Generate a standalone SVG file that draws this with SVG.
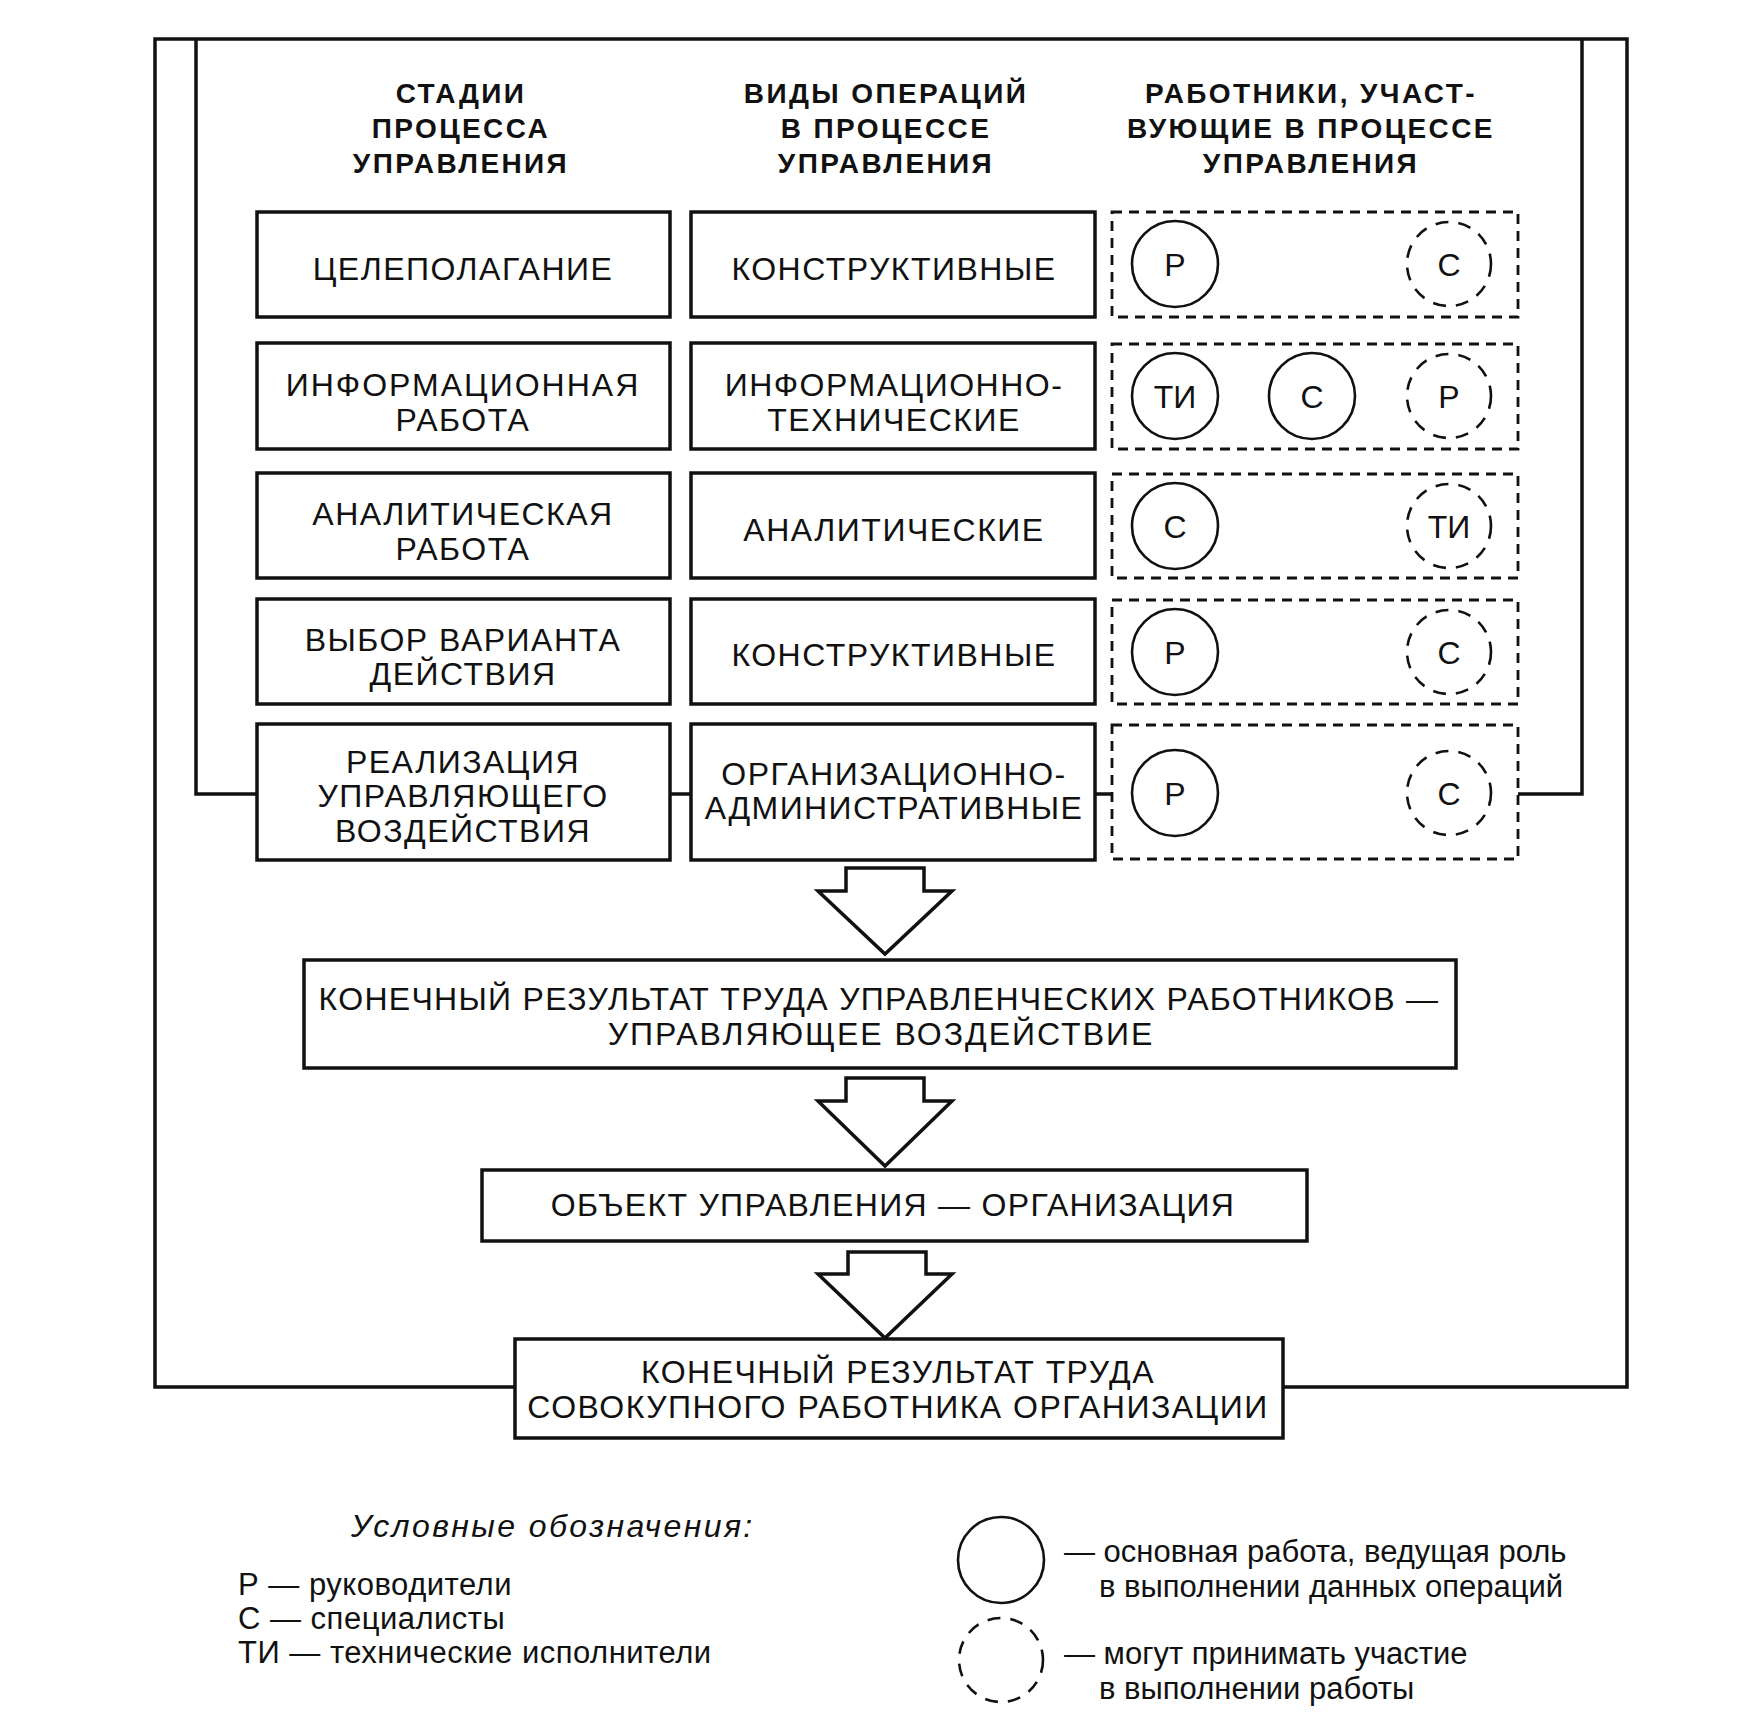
<svg xmlns="http://www.w3.org/2000/svg" width="1742" height="1731" viewBox="0 0 1742 1731">
<style>
  .bg{fill:#fff}
  .box{fill:#fff;stroke:#111;stroke-width:3.5}
  .dbox{fill:none;stroke:#111;stroke-width:2.8;stroke-dasharray:10 7}
  .ln{fill:none;stroke:#111;stroke-width:3.5}
  .arr{fill:#fff;stroke:#111;stroke-width:3.5;stroke-linejoin:miter}
  .c{fill:none;stroke:#111;stroke-width:2.6}
  .dc{fill:none;stroke:#111;stroke-width:2.6;stroke-dasharray:13 10}
  text{font-family:"Liberation Sans",Arial,sans-serif;fill:#111}
  .h{font-size:28px;font-weight:bold;letter-spacing:2.4px;text-anchor:middle}
  .t{font-size:32px;letter-spacing:1.5px;text-anchor:middle}
  .ct{font-size:32px;text-anchor:middle}
  .lg{font-size:31px;letter-spacing:0.5px}
  .lr{font-size:31px}
  .it{font-size:32px;font-style:italic;letter-spacing:2.4px}
</style>
<rect class="bg" x="0" y="0" width="1742" height="1731"/>

<g id="connectors">
  <polyline class="ln" points="515,1387 155,1387 155,39 1627,39 1627,1387 1283,1387"/>
  <polyline class="ln" points="257,794 196,794 196,39"/>
  <polyline class="ln" points="1518,794 1582,794 1582,39"/>
  <line class="ln" x1="670" y1="794" x2="691" y2="794"/>
  <line class="ln" x1="1095" y1="794" x2="1112" y2="794"/>
  <polygon class="arr" points="846,868 924,868 924,891 952,891 885,954 818,891 846,891"/>
  <polygon class="arr" points="846,1078 924,1078 924,1101 952,1101 885,1166 818,1101 846,1101"/>
  <polygon class="arr" points="848,1252 926,1252 926,1274 952,1274 885,1338 818,1274 848,1274"/>
</g>

<g id="headers">
  <text class="h" x="461" y="103">СТАДИИ</text>
  <text class="h" x="461" y="138">ПРОЦЕССА</text>
  <text class="h" x="461" y="173">УПРАВЛЕНИЯ</text>
  <text class="h" x="886" y="103">ВИДЫ ОПЕРАЦИЙ</text>
  <text class="h" x="886" y="138">В ПРОЦЕССЕ</text>
  <text class="h" x="886" y="173">УПРАВЛЕНИЯ</text>
  <text class="h" x="1311" y="103">РАБОТНИКИ, УЧАСТ-</text>
  <text class="h" x="1311" y="138">ВУЮЩИЕ В ПРОЦЕССЕ</text>
  <text class="h" x="1311" y="173">УПРАВЛЕНИЯ</text>
</g>

<g id="stage1">
  <rect class="box" x="257" y="212" width="413" height="105"/>
  <text class="t" x="463" y="280">ЦЕЛЕПОЛАГАНИЕ</text>
</g>
<g id="stage2">
  <rect class="box" x="257" y="343" width="413" height="106"/>
  <text class="t" x="463" y="396" style="letter-spacing:2px">ИНФОРМАЦИОННАЯ</text>
  <text class="t" x="463" y="431">РАБОТА</text>
</g>
<g id="stage3">
  <rect class="box" x="257" y="473" width="413" height="105"/>
  <text class="t" x="463" y="525">АНАЛИТИЧЕСКАЯ</text>
  <text class="t" x="463" y="560">РАБОТА</text>
</g>
<g id="stage4">
  <rect class="box" x="257" y="599" width="413" height="105"/>
  <text class="t" x="463" y="651">ВЫБОР ВАРИАНТА</text>
  <text class="t" x="463" y="685">ДЕЙСТВИЯ</text>
</g>
<g id="stage5">
  <rect class="box" x="257" y="724" width="413" height="136"/>
  <text class="t" x="463" y="773">РЕАЛИЗАЦИЯ</text>
  <text class="t" x="463" y="807">УПРАВЛЯЮЩЕГО</text>
  <text class="t" x="463" y="842">ВОЗДЕЙСТВИЯ</text>
</g>

<g id="op1">
  <rect class="box" x="691" y="212" width="404" height="105"/>
  <text class="t" x="894" y="280">КОНСТРУКТИВНЫЕ</text>
</g>
<g id="op2">
  <rect class="box" x="691" y="343" width="404" height="106"/>
  <text class="t" x="894" y="396">ИНФОРМАЦИОННО-</text>
  <text class="t" x="894" y="431">ТЕХНИЧЕСКИЕ</text>
</g>
<g id="op3">
  <rect class="box" x="691" y="473" width="404" height="105"/>
  <text class="t" x="894" y="541">АНАЛИТИЧЕСКИЕ</text>
</g>
<g id="op4">
  <rect class="box" x="691" y="599" width="404" height="105"/>
  <text class="t" x="894" y="666">КОНСТРУКТИВНЫЕ</text>
</g>
<g id="op5">
  <rect class="box" x="691" y="724" width="404" height="136"/>
  <text class="t" x="894" y="785">ОРГАНИЗАЦИОННО-</text>
  <text class="t" x="894" y="819" style="letter-spacing:1.4px">АДМИНИСТРАТИВНЫЕ</text>
</g>

<g id="workers1">
  <rect class="dbox" x="1112" y="212" width="406" height="105"/>
  <circle class="c" cx="1175" cy="264" r="43"/>
  <text class="ct" x="1175" y="276">Р</text>
  <circle class="dc" cx="1449" cy="264" r="42"/>
  <text class="ct" x="1449" y="276">С</text>
</g>
<g id="workers2">
  <rect class="dbox" x="1112" y="344" width="406" height="105"/>
  <circle class="c" cx="1175" cy="396" r="43"/>
  <text class="ct" x="1175" y="408">ТИ</text>
  <circle class="c" cx="1312" cy="396" r="43"/>
  <text class="ct" x="1312" y="408">С</text>
  <circle class="dc" cx="1449" cy="396" r="42"/>
  <text class="ct" x="1449" y="408">Р</text>
</g>
<g id="workers3">
  <rect class="dbox" x="1112" y="474" width="406" height="104"/>
  <circle class="c" cx="1175" cy="526" r="43"/>
  <text class="ct" x="1175" y="538">С</text>
  <circle class="dc" cx="1449" cy="526" r="42"/>
  <text class="ct" x="1449" y="538">ТИ</text>
</g>
<g id="workers4">
  <rect class="dbox" x="1112" y="600" width="406" height="104"/>
  <circle class="c" cx="1175" cy="652" r="43"/>
  <text class="ct" x="1175" y="664">Р</text>
  <circle class="dc" cx="1449" cy="652" r="42"/>
  <text class="ct" x="1449" y="664">С</text>
</g>
<g id="workers5">
  <rect class="dbox" x="1112" y="725" width="406" height="134"/>
  <circle class="c" cx="1175" cy="793" r="43"/>
  <text class="ct" x="1175" y="805">Р</text>
  <circle class="dc" cx="1449" cy="793" r="42"/>
  <text class="ct" x="1449" y="805">С</text>
</g>

<g id="result-management">
  <rect class="box" x="304" y="960" width="1152" height="108"/>
  <text class="t" x="879" y="1010" style="letter-spacing:1.3px">КОНЕЧНЫЙ РЕЗУЛЬТАТ ТРУДА УПРАВЛЕНЧЕСКИХ РАБОТНИКОВ —</text>
  <text class="t" x="881" y="1045" style="letter-spacing:2px">УПРАВЛЯЮЩЕЕ ВОЗДЕЙСТВИЕ</text>
</g>
<g id="object">
  <rect class="box" x="482" y="1170" width="825" height="71"/>
  <text class="t" x="893" y="1216" style="letter-spacing:1.3px">ОБЪЕКТ УПРАВЛЕНИЯ — ОРГАНИЗАЦИЯ</text>
</g>
<g id="result-total">
  <rect class="box" x="515" y="1339" width="768" height="99"/>
  <text class="t" x="898" y="1383" style="letter-spacing:1.45px">КОНЕЧНЫЙ РЕЗУЛЬТАТ ТРУДА</text>
  <text class="t" x="898" y="1418" style="letter-spacing:1.5px">СОВОКУПНОГО РАБОТНИКА ОРГАНИЗАЦИИ</text>
</g>

<g id="legend">
  <text class="it" x="351" y="1537">Условные обозначения:</text>
  <text class="lg" x="238" y="1595">Р — руководители</text>
  <text class="lg" x="238" y="1629">С — специалисты</text>
  <text class="lg" x="238" y="1663">ТИ — технические исполнители</text>
  <ellipse class="c" cx="1001" cy="1560" rx="43" ry="43"/>
  <ellipse class="dc" cx="1001" cy="1660" rx="42" ry="42"/>
  <text class="lr" x="1064" y="1562">— основная работа, ведущая роль</text>
  <text class="lr" x="1099" y="1597">в выполнении данных операций</text>
  <text class="lr" x="1064" y="1664">— могут принимать участие</text>
  <text class="lr" x="1099" y="1699">в выполнении работы</text>
</g>
</svg>
